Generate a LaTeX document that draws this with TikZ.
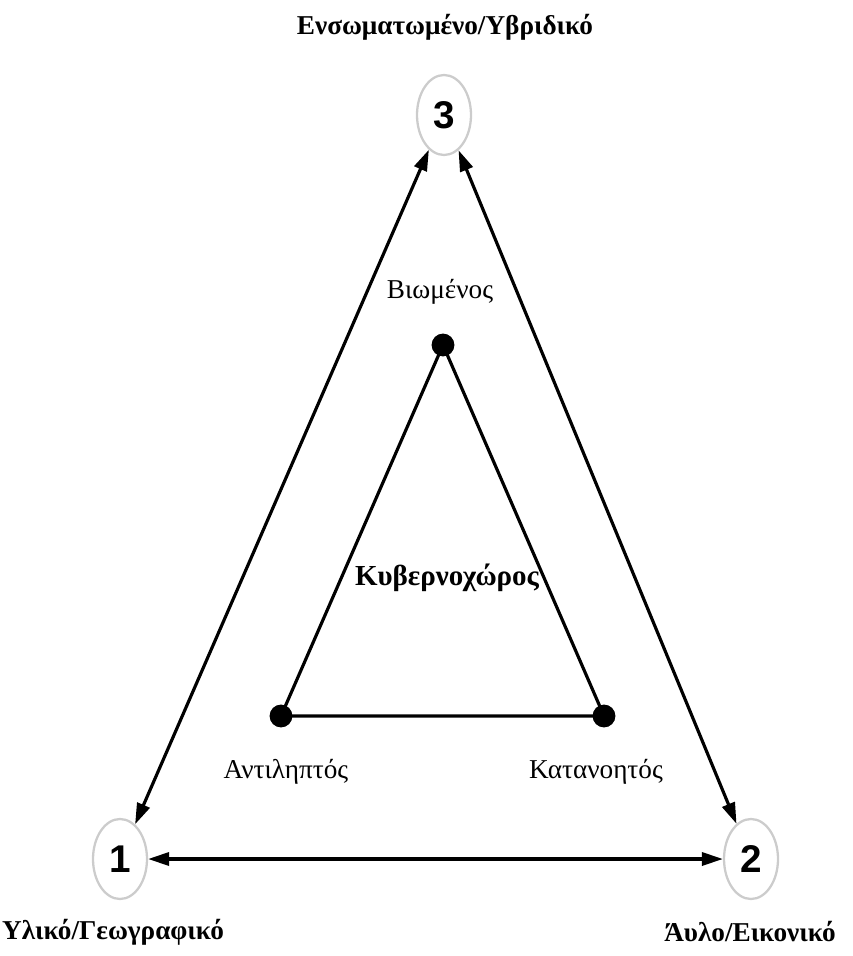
\documentclass[tikz,border=0pt]{standalone}
\usepackage{fontspec}
\setmainfont{Liberation Serif}
\newfontfamily\numfont{Liberation Sans}
\usetikzlibrary{arrows.meta, shapes.geometric, positioning}

\tikzset{
  corner/.style={ellipse, draw=gray!40, line width=1.3pt, minimum width=1.08cm,
                 minimum height=1.6cm, inner sep=0pt,
                 font=\numfont\bfseries\fontsize{22}{22}\selectfont},
  pole/.style={font=\bfseries\fontsize{15.5}{18}\selectfont},
  facet/.style={font=\fontsize{15.5}{18}\selectfont},
  dot/.style={circle, fill=black, inner sep=0pt, minimum size=13pt},
  link/.style={line width=1.8pt, {Triangle[length=12pt,width=7.5pt]}-{Triangle[length=12pt,width=7.5pt]}},
  edge/.style={line width=1.8pt}
}

\begin{document}
\begin{tikzpicture}[x=0.02cm, y=-0.02cm]
  \useasboundingbox (0,0) rectangle (852,956);

  % three corners of the outer triangle
  \node[corner] (n3) at (444,115) {3};
  \node[corner] (n1) at (120,859) {1};
  \node[corner] (n2) at (751,859) {2};

  \node[pole] (l3) at (445,27)  {Ενσωματωμένο/Υβριδικό};
  \node[pole] (l1) at (113,932) {Υλικό/Γεωγραφικό};
  \node[pole] (l2) at (750,932) {Άυλο/Εικονικό};

  \draw[link] (n1) -- (n3);
  \draw[link] (n3) -- (n2);
  \draw[link] (n1) -- (n2);

  % inner triangle
  \node[dot] (vb) at (443,345) {};
  \node[dot] (va) at (281,716) {};
  \node[dot] (vk) at (604,716) {};
  \draw[edge] (vb.center) -- (va.center) -- (vk.center) -- cycle;

  \node[facet] (tb) at (440,292) {Βιωμένος};
  \node[facet] (ta) at (286,772) {Αντιληπτός};
  \node[facet] (tk) at (596,772) {Κατανοητός};
  \node[pole, font=\bfseries\fontsize{16.5}{18}\selectfont] (cy) at (447,578) {Κυβερνοχώρος};
\end{tikzpicture}
\end{document}
